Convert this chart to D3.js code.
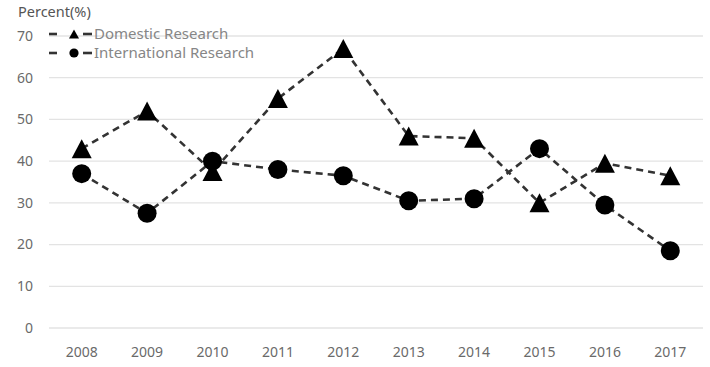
<!DOCTYPE html>
<html>
<head>
<meta charset="utf-8">
<script src="https://cdn.jsdelivr.net/npm/d3@7"></script>
<style>
  body { margin: 0; background: #fff; }
  svg { display: block; font-family: "Noto Sans", "Open Sans", sans-serif; }
</style>
</head>
<body>
<svg id="chart" width="710" height="367"></svg>
<script>
// data
const years = ["2008", "2009", "2010", "2011", "2012", "2013", "2014", "2015", "2016", "2017"]
const domestic = [43, 52, 37.5, 55, 67, 46, 45.5, 30, 39.5, 36.5]
const international = [37, 27.5, 40, 38, 36.5, 30.5, 31, 43, 29.5, 18.5]
const yTicks = [0, 10, 20, 30, 40, 50, 60, 70]

const width = 710, height = 367
const margin = { top: 36, right: 7, bottom: 39, left: 49 }

const svg = d3.select("#chart")

const x = d3.scalePoint()
    .domain(years)
    .range([margin.left, width - margin.right])
    .padding(0.5)

const y = d3.scaleLinear()
    .domain([0, 70])
    .range([height - margin.bottom, margin.top])

// grid lines
svg.append("g")
    .selectAll("line")
    .data(yTicks)
    .join("line")
    .attr("x1", margin.left)
    .attr("x2", width - margin.right)
    .attr("y1", d => y(d))
    .attr("y2", d => y(d))
    .attr("stroke", "#e3e3e3")
    .attr("stroke-width", 1.3)

// y axis labels
svg.append("g")
    .selectAll("text")
    .data(yTicks)
    .join("text")
    .attr("x", 33)
    .attr("y", d => y(d))
    .attr("dy", "0.35em")
    .attr("text-anchor", "end")
    .attr("fill", "#6a6a6a")
    .attr("font-size", 14)
    .text(d => d)

// x axis labels
svg.append("g")
    .selectAll("text")
    .data(years)
    .join("text")
    .attr("x", d => x(d))
    .attr("y", 357)
    .attr("text-anchor", "middle")
    .attr("fill", "#6a6a6a")
    .attr("font-size", 14)
    .text(d => d)

svg.append("text")
    .attr("x", 18)
    .attr("y", 17)
    .attr("fill", "#555")
    .attr("font-size", 14.5)
    .text("Percent(%)")

const line = d3.line()
    .x((d, i) => x(years[i]))
    .y(d => y(d))

// triangle drawn in a w x h box centred on the point
const tri = (w, h) => `M0,${-h / 2}L${w / 2},${h / 2}L${-w / 2},${h / 2}Z`
const dot = r => d3.symbol().type(d3.symbolCircle).size(Math.PI * r * r)()

const series = [
    { name: "Domestic Research", values: domestic, marker: tri(20, 19), small: tri(10, 9) },
    { name: "International Research", values: international, marker: dot(9.5), small: dot(4.6) }
]

// dashed lines first, markers on top
series.forEach(s => {
    svg.append("path")
        .datum(s.values)
        .attr("d", line)
        .attr("fill", "none")
        .attr("stroke", "#333")
        .attr("stroke-width", 2.6)
        .attr("stroke-dasharray", "7,5")
})

series.forEach(s => {
    svg.append("g")
        .selectAll("path")
        .data(s.values)
        .join("path")
        .attr("transform", (d, i) => `translate(${x(years[i])},${y(d)})`)
        .attr("d", s.marker)
        .attr("fill", "#000")
})

// legend
const legend = svg.append("g")
    .selectAll("g")
    .data(series)
    .join("g")
    .attr("transform", (d, i) => `translate(49,${34 + i * 19})`)

legend.selectAll("line")
    .data([[0, 8], [34, 43]])
    .join("line")
    .attr("x1", d => d[0]).attr("x2", d => d[1])
    .attr("stroke", "#333")
    .attr("stroke-width", 2.6)
legend.append("path")
    .attr("transform", "translate(25,0)")
    .attr("d", d => d.small)
    .attr("fill", "#000")
legend.append("text")
    .attr("x", 45)
    .attr("dy", "0.35em")
    .attr("fill", "#868686")
    .attr("font-size", 15)
    .text(d => d.name)
</script>
</body>
</html>
